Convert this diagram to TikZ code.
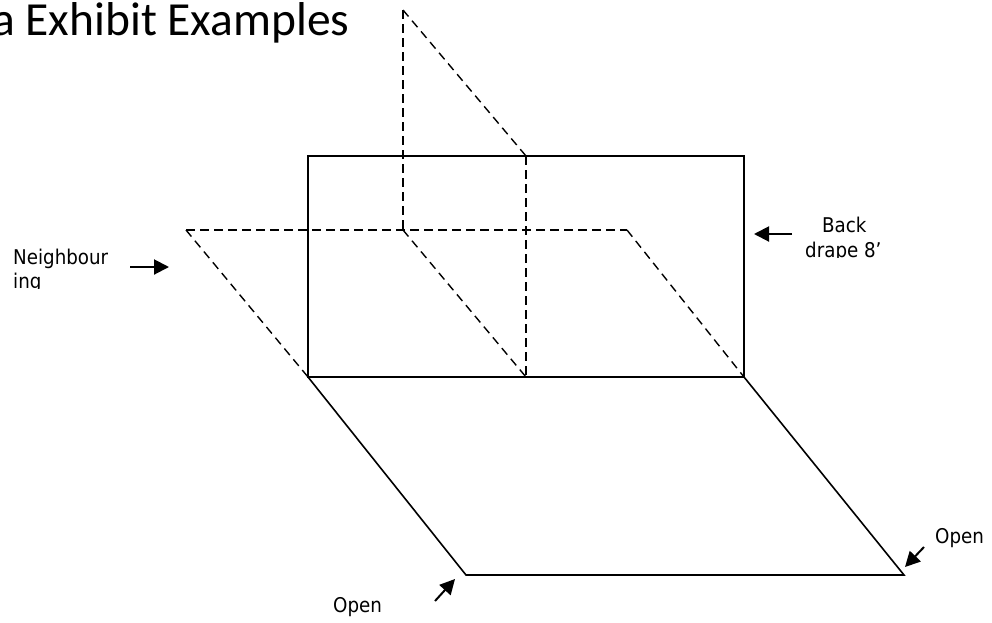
\documentclass[tikz,border=0pt]{standalone}
\usepackage{fontspec}
\setmainfont{Carlito}
\newfontfamily\labelfont{DejaVu Sans Condensed}
\usetikzlibrary{arrows.meta}
\tikzset{
  drape/.style={line width=2.8pt,black},
  floorline/.style={line width=1.6pt,black},
  hidden/.style={line width=1.4pt,black,dash pattern=on 8.5pt off 5.5pt},
  pointer/.style={line width=2pt,black,-{Triangle[length=15pt,width=15pt]}},
  lab/.style={font=\labelfont\fontsize{20.3}{24}\selectfont,inner sep=0pt,anchor=base west},
  heading/.style={font=\fontsize{47.5}{50}\selectfont,inner sep=0pt,anchor=base west}
}
\begin{document}
\begin{tikzpicture}[x=1pt,y=-1pt]
\useasboundingbox (0,0) rectangle (992,622);
\coordinate (tl) at (308,156);
\coordinate (tr) at (744,156);
\coordinate (br) at (744,377);
\coordinate (bl) at (308,377);
\coordinate (fl) at (466,575);
\coordinate (fr) at (904,575);
\coordinate (nl) at (186,230);
\coordinate (nm) at (403,230);
\coordinate (nr) at (627,230);
\coordinate (up) at (403,10);
\coordinate (ut) at (526,156);
\coordinate (ub) at (526,377);
\coordinate (a1s) at (130,267); \coordinate (a1e) at (169,267);
\coordinate (a2s) at (792,234); \coordinate (a2e) at (754,234);
\coordinate (a3s) at (435,601); \coordinate (a3e) at (455,579);
\coordinate (a4s) at (924,547); \coordinate (a4e) at (905,567);
\draw[hidden] (nl) -- (nr);
\draw[hidden] (nl) -- (bl);
\draw[hidden] (nm) -- (ub);
\draw[hidden] (nr) -- (br);
\draw[hidden] (up) -- (nm);
\draw[hidden] (up) -- (ut);
\draw[hidden] (ut) -- (ub);
\draw[drape] (tl) rectangle (br);
\draw[floorline] (bl) -- (fl) -- (fr) -- (br);
\draw[pointer] (a1s) -- (a1e);
\draw[pointer] (a2s) -- (a2e);
\draw[pointer] (a3s) -- (a3e);
\draw[pointer] (a4s) -- (a4e);
\node[heading] (title) at (-8,35) {a Exhibit Examples};
\begin{scope}
\clip (0,240) rectangle (130,288.5);
\node[lab] (n1) at (13,264) {Neighbour};
\node[lab] (n2) at (13,288) {ing};
\end{scope}
\begin{scope}
\clip (800,205) rectangle (900,257);
\node[lab] (b1) at (822,232) {Back};
\node[lab] (b2) at (805,257) {drape 8’};
\end{scope}
\node[lab] (o1) at (333,612) {Open};
\node[lab] (o2) at (935,543) {Open};
\end{tikzpicture}
\end{document}
